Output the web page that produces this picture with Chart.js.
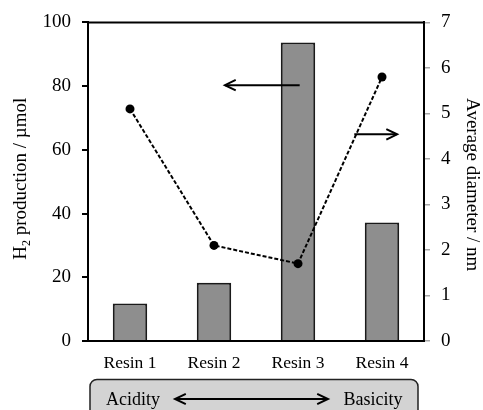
<!DOCTYPE html>
<html>
<head>
<meta charset="utf-8">
<script src="https://cdn.jsdelivr.net/npm/chart.js@4.4.0/dist/chart.umd.min.js"></script>
<style>
  html, body { margin: 0; padding: 0; background: #fff; }
  #wrap { width: 483px; height: 410px; }
</style>
</head>
<body>
<div id="wrap"><canvas id="resinChart" width="483" height="410"></canvas></div>
<script>
// values
const resins = ['Resin 1', 'Resin 2', 'Resin 3', 'Resin 4'];
const h2Production = [11.8, 18.3, 93.7, 37.2];   // umol, left axis (bars)
const avgDiameter = [5.1, 2.1, 1.7, 5.8];         // nm, right axis (dashed line)
const h2Ticks = [0, 20, 40, 60, 80, 100];
const diameterTicks = [0, 1, 2, 3, 4, 5, 6, 7];

const FONT = '"Liberation Serif", "Times New Roman", serif';

// draw an open "V" head at (x2, y2)
function drawArrowHead(ctx, x1, y1, x2, y2, len) {
    const a = Math.atan2(y2 - y1, x2 - x1);
    ctx.beginPath();
    ctx.moveTo(x2 - len * Math.cos(a - 0.45), y2 - len * Math.sin(a - 0.45));
    ctx.lineTo(x2, y2);
    ctx.lineTo(x2 - len * Math.cos(a + 0.45), y2 - len * Math.sin(a + 0.45));
    ctx.stroke();
}

function drawArrow(ctx, x1, y1, x2, y2) {
    ctx.beginPath();
    ctx.moveTo(x1, y1);
    ctx.lineTo(x2, y2);
    ctx.stroke();
    drawArrowHead(ctx, x1, y1, x2, y2, 12);
}

// rotated axis title, optional subscript after the first part
function drawTitle(ctx, cx, cy, angle, head, sub, rest) {
    const big = '19px ' + FONT;
    const small = '12px ' + FONT;
    ctx.save();
    ctx.translate(cx, cy);
    ctx.rotate(angle);
    ctx.fillStyle = '#000';
    ctx.textAlign = 'left';
    ctx.textBaseline = 'alphabetic';
    ctx.font = big;
    const wHead = ctx.measureText(head).width;
    const wRest = ctx.measureText(rest).width;
    ctx.font = small;
    const wSub = sub ? ctx.measureText(sub).width : 0;
    let x = -(wHead + wSub + wRest) / 2;
    ctx.font = big;
    ctx.fillText(head, x, 0);
    x += wHead;
    if (sub) {
        ctx.font = small;
        ctx.fillText(sub, x, 4);
        x += wSub;
    }
    ctx.font = big;
    ctx.fillText(rest, x, 0);
    ctx.restore();
}

const decorations = {
    id: 'decorations',
    afterDatasetsDraw(chart) {
        const ctx = chart.ctx;
        const area = chart.chartArea;
        const x = chart.scales.x;
        const y = chart.scales.y;
        const y1 = chart.scales.y1;

        ctx.save();
        ctx.strokeStyle = '#000';
        ctx.lineWidth = 2;

        // top frame line
        ctx.beginPath();
        ctx.moveTo(area.left - 1, area.top);
        ctx.lineTo(area.right + 1, area.top);
        ctx.stroke();

        // arrows telling which axis each series uses
        const ly = y.getPixelForValue(80.3);
        drawArrow(ctx, x.getPixelForValue(2.02), ly, x.getPixelForValue(1.13), ly);
        const ry = y1.getPixelForValue(4.54);
        drawArrow(ctx, x.getPixelForValue(2.67), ry, x.getPixelForValue(3.18), ry);

        // acidity / basicity box below the categories
        const bx = area.left + 2;
        const bw = area.right - 6 - bx;
        const by = area.bottom + 38.5;
        ctx.beginPath();
        ctx.roundRect(bx, by, bw, 50, 7);
        ctx.fillStyle = '#d3d3d3';
        ctx.fill();
        ctx.lineWidth = 1.5;
        ctx.strokeStyle = '#222';
        ctx.stroke();

        ctx.fillStyle = '#000';
        ctx.font = '18px ' + FONT;
        ctx.textBaseline = 'alphabetic';
        ctx.textAlign = 'center';
        ctx.fillText('Acidity', bx + 43, by + 25);
        ctx.fillText('Basicity', bx + 283, by + 25);

        const ay = by + 19.5;
        const ax1 = bx + 85;
        const ax2 = bx + 238;
        ctx.lineWidth = 2;
        ctx.strokeStyle = '#000';
        ctx.beginPath();
        ctx.moveTo(ax1, ay);
        ctx.lineTo(ax2, ay);
        ctx.stroke();
        drawArrowHead(ctx, ax2, ay, ax1, ay, 12);
        drawArrowHead(ctx, ax1, ay, ax2, ay, 12);

        // axis titles
        const midY = (area.top + area.bottom) / 2;
        drawTitle(ctx, 26, midY - 3, -Math.PI / 2, 'H', '2', ' production / \u00b5mol');
        drawTitle(ctx, 467, midY + 3, Math.PI / 2, 'Average diameter / nm', '', '');
        ctx.restore();
    }
};

new Chart(document.getElementById('resinChart').getContext('2d'), {
    data: {
        labels: resins,
        datasets: [{
            type: 'line',
            data: avgDiameter,
            yAxisID: 'y1',
            order: 0,
            borderColor: '#000',
            borderWidth: 2,
            borderDash: [4, 2],
            tension: 0,
            fill: false,
            pointRadius: 4.5,
            pointBorderWidth: 0,
            pointBackgroundColor: '#000'
        }, {
            type: 'bar',
            data: h2Production,
            yAxisID: 'y',
            order: 1,
            backgroundColor: '#8e8e8e',
            borderColor: '#1a1a1a',
            borderWidth: 2,
            barPercentage: 0.41,
            categoryPercentage: 1
        }]
    },
    options: {
        responsive: false,
        animation: false,
        devicePixelRatio: 1,
        layout: { padding: { top: 20, left: 0, right: 0, bottom: 0 } },
        plugins: {
            legend: { display: false },
            tooltip: { enabled: false }
        },
        scales: {
            x: {
                afterFit: s => { s.height = 69; },
                grid: { display: false, drawTicks: false },
                border: { color: '#000', width: 2 },
                ticks: { color: '#000', padding: 12, font: { family: FONT, size: 17.5 } }
            },
            y: {
                position: 'left',
                min: 0,
                max: 100,
                afterFit: s => { s.width = 88; },
                afterBuildTicks: s => { s.ticks = h2Ticks.map(v => ({ value: v })); },
                grid: { drawOnChartArea: false, drawTicks: true, tickLength: 6, color: '#000', lineWidth: 2 },
                border: { color: '#000', width: 2 },
                ticks: { color: '#000', padding: 11, font: { family: FONT, size: 19 } }
            },
            y1: {
                position: 'right',
                min: 0,
                max: 7,
                afterFit: s => { s.width = 59; },
                afterBuildTicks: s => { s.ticks = diameterTicks.map(v => ({ value: v })); },
                grid: { drawOnChartArea: false, drawTicks: true, tickLength: 6, color: '#a8a8a8', lineWidth: 1.5 },
                border: { color: '#000', width: 2 },
                ticks: { color: '#000', padding: 11, font: { family: FONT, size: 19 } }
            }
        }
    },
    plugins: [decorations]
});
</script>
</body>
</html>
